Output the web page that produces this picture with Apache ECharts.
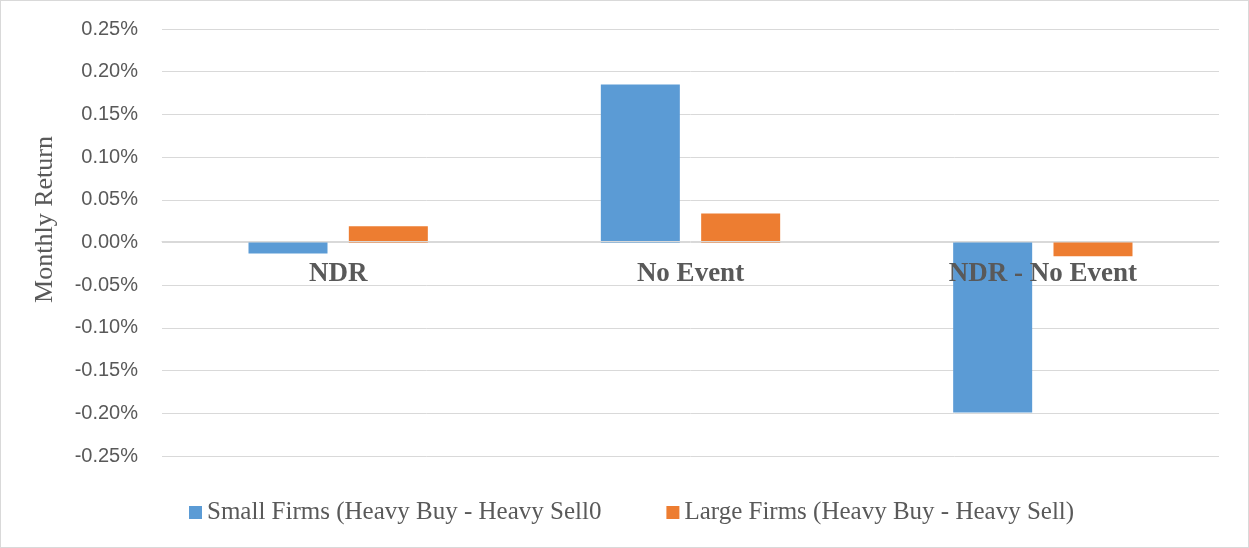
<!DOCTYPE html>
<html>
<head>
<meta charset="utf-8">
<script src="https://cdn.jsdelivr.net/npm/echarts@6/dist/echarts.min.js"></script>
<style>
html,body{margin:0;padding:0;background:#fff;}
#c{width:1249px;height:548px;box-sizing:border-box;border:1px solid #d9d9d9;}
</style>
</head>
<body>
<div id="c"></div>
<script>
const categories = ['NDR', 'No Event', 'NDR - No Event'];
const smallFirms = [-0.013, 0.185, -0.199];
const largeFirms = [0.019, 0.034, -0.016];
const seriesNames = ['Small Firms (Heavy Buy - Heavy Sell0', 'Large Firms (Heavy Buy - Heavy Sell)'];
const yTicks = { min: -0.25, max: 0.25, interval: 0.05 };

const chart = echarts.init(document.getElementById('c'), null, {renderer: 'canvas'});
chart.setOption({
  animation: false,
  backgroundColor: '#ffffff',
  grid: { left: 161, right: 29, top: 28, bottom: 91, containLabel: false },
  legend: {
    left: 183, top: 494,
    icon: 'rect', itemWidth: 13, itemHeight: 13, itemGap: 65,
    textStyle: { fontFamily: 'Liberation Serif', fontSize: 25, color: '#595959' },
    data: seriesNames
  },
  xAxis: {
    type: 'category',
    data: categories,
    z: 10,
    offset: -214.5,
    axisLine: { show: true, onZero: false, lineStyle: { color: '#d9d9d9', width: 1 } },
    axisTick: { show: false },
    axisLabel: { margin: 19, fontFamily: 'Liberation Serif', fontWeight: 'bold', fontSize: 27, color: '#595959' }
  },
  yAxis: {
    type: 'value',
    min: yTicks.min, max: yTicks.max, interval: yTicks.interval,
    name: 'Monthly Return',
    nameLocation: 'middle',
    nameGap: 104,
    nameTextStyle: { fontFamily: 'Liberation Serif', fontSize: 26, color: '#595959', padding: [0, 0, 0, 46] },
    axisLine: { show: false },
    axisTick: { show: false },
    splitLine: { lineStyle: { color: '#d9d9d9', width: 1 } },
    axisLabel: {
      margin: 24, fontFamily: 'Liberation Sans', fontSize: 20, color: '#595959',
      formatter: v => v.toFixed(2) + '%'
    }
  },
  series: [
    { name: seriesNames[0], type: 'bar', data: smallFirms, barWidth: 79, barGap: '27%',
      itemStyle: { color: '#5B9BD5' } },
    { name: seriesNames[1], type: 'bar', data: largeFirms, barWidth: 79,
      itemStyle: { color: '#ED7D31' } }
  ]
});
</script>
</body>
</html>
